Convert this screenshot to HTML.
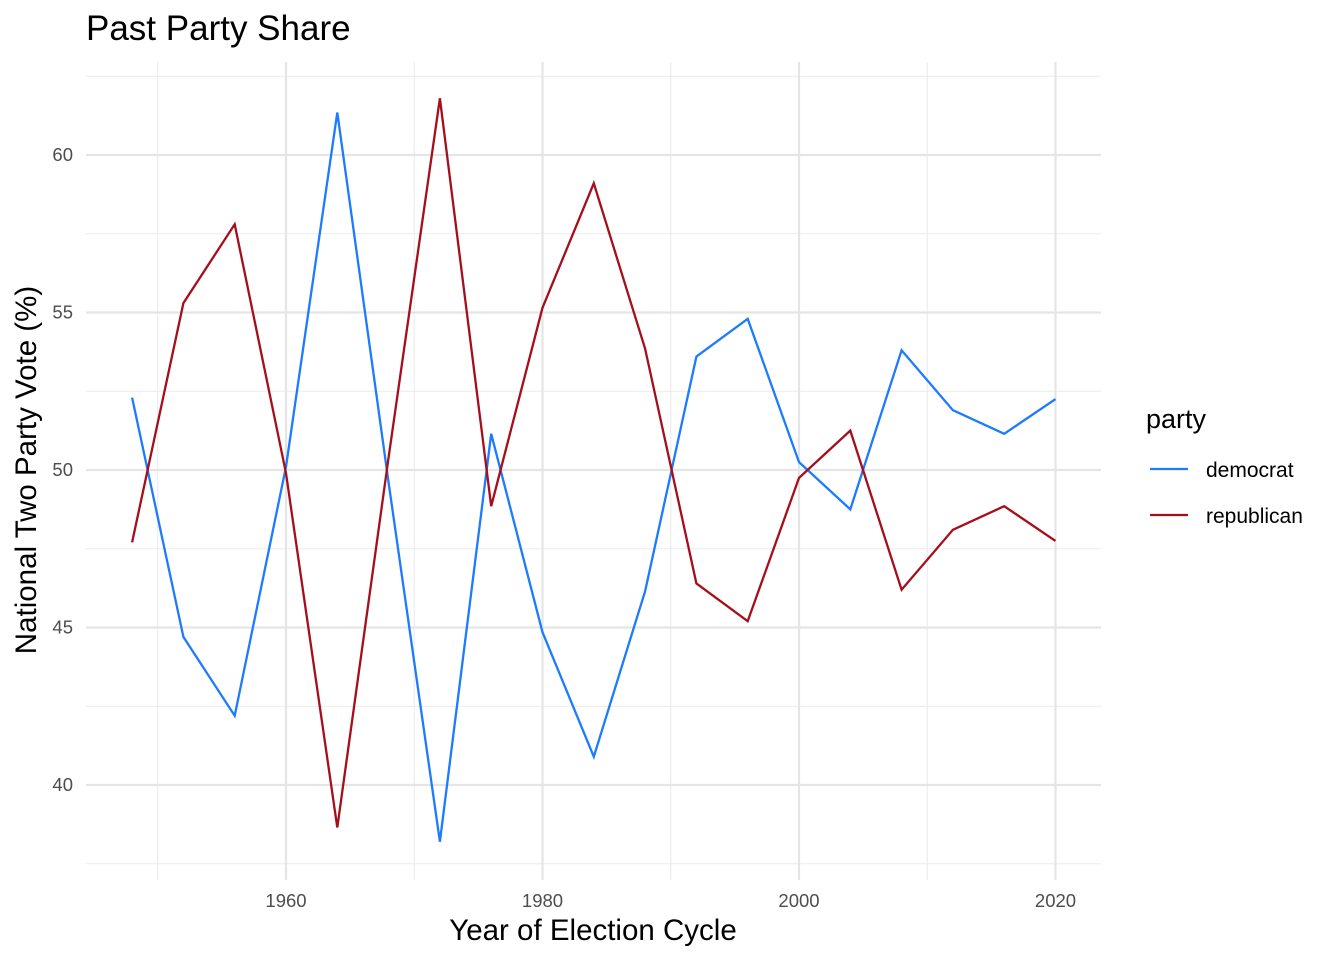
<!DOCTYPE html>
<html><head><meta charset="utf-8"><style>
body{margin:0;background:#fff;font-family:"Liberation Sans",Arial,sans-serif;}
svg text{font-family:"Liberation Sans",Arial,sans-serif;}
</style></head><body>
<svg id="chart" width="1344" height="960" xmlns="http://www.w3.org/2000/svg">
<text x="86" y="40" font-size="35" fill="#000">Past Party Share</text>
<g id="grid"></g>
<g id="series"></g>
<g id="axes"></g>
<text x="593" y="940" font-size="29.5" text-anchor="middle">Year of Election Cycle</text>
<text transform="translate(36,470) rotate(-90)" font-size="29.5" text-anchor="middle">National Two Party Vote (%)</text>
<g>
<text x="1146" y="428" font-size="27">party</text>
<line x1="1150" x2="1188" y1="469" y2="469" stroke="#1C7BFF" stroke-width="2.2"/>
<text x="1206" y="477" font-size="21">democrat</text>
<line x1="1150" x2="1188" y1="515" y2="515" stroke="#A50F1C" stroke-width="2.2"/>
<text x="1206" y="523" font-size="21">republican</text>
</g>
</svg>
<script>
const years=[1948,1952,1956,1960,1964,1968,1972,1976,1980,1984,1988,1992,1996,2000,2004,2008,2012,2016,2020];
const democrat=[52.3,44.7,42.2,50.1,61.35,49.6,38.2,51.15,44.85,40.9,46.15,53.6,54.8,50.25,48.75,53.8,51.9,51.15,52.25];
const republican=[47.7,55.3,57.8,49.9,38.65,50.4,61.8,48.85,55.15,59.1,53.85,46.4,45.2,49.75,51.25,46.2,48.1,48.85,47.75];
const xTicks=[1960,1980,2000,2020];
const xMinor=[1950,1970,1990,2010];
const yTicks=[40,45,50,55,60];
const yMinor=[37.5,42.5,47.5,52.5,57.5,62.5];
const NS='http://www.w3.org/2000/svg';
const X=v=>286+(v-1960)*12.825;
const Y=v=>470-(v-50)*31.5;
const L=86,R=1101;
function mk(t,a,p){const e=document.createElementNS(NS,t);for(const k in a)e.setAttribute(k,a[k]);p.appendChild(e);return e;}
const g=document.getElementById('grid'),ax=document.getElementById('axes'),s=document.getElementById('series');
yMinor.forEach(v=>{const e=mk('line',{x1:L,x2:R,y1:Y(v),y2:Y(v),stroke:'#ebebeb','stroke-width':1.1},g);

});
xMinor.forEach(v=>{const e=mk('line',{x1:X(v),x2:X(v),y1:62,y2:880,stroke:'#ebebeb','stroke-width':1.1},g);

});
yTicks.forEach(v=>{const e=mk('line',{x1:L,x2:R,y1:Y(v),y2:Y(v),stroke:'#e5e5e5','stroke-width':2.2},g);


const t=mk('text',{x:73,y:Y(v)+6,'font-size':18.5,fill:'#4d4d4d','text-anchor':'end'},ax);t.textContent=v;

});
xTicks.forEach(v=>{const e=mk('line',{x1:X(v),x2:X(v),y1:62,y2:880,stroke:'#e5e5e5','stroke-width':2.2},g);


const t=mk('text',{x:X(v),y:907,'font-size':18.5,fill:'#4d4d4d','text-anchor':'middle'},ax);t.textContent=v;

});
function line(vals,color,name){const d=vals.map((v,i)=>(i?'L':'M')+X(years[i]).toFixed(1)+','+Y(v).toFixed(1)).join('');
const p=mk('path',{d:d,fill:'none',stroke:color,'stroke-width':2.3},s);

}
line(democrat,'#1C7BFF','democrat-line');
line(republican,'#A50F1C','republican-line');
</script>
</body></html>
